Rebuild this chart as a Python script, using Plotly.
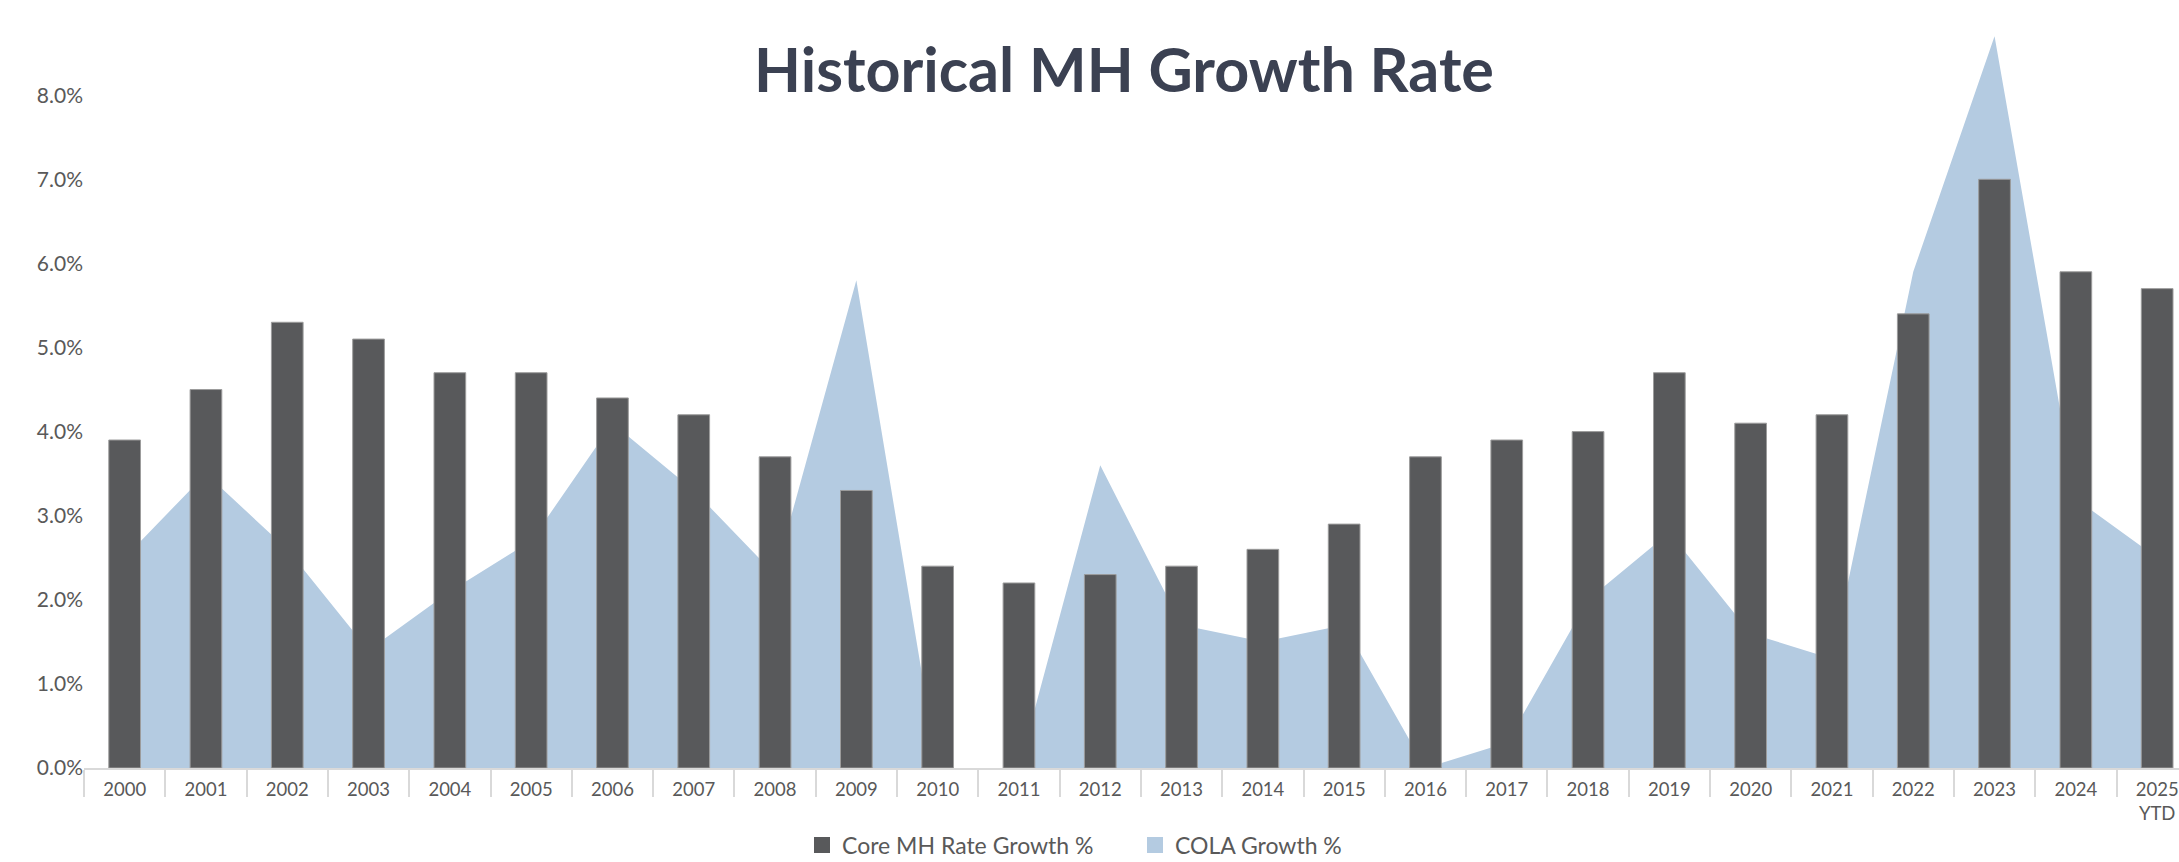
import plotly.graph_objects as go

years = ["2000", "2001", "2002", "2003", "2004", "2005", "2006", "2007", "2008", "2009",
         "2010", "2011", "2012", "2013", "2014", "2015", "2016", "2017", "2018", "2019",
         "2020", "2021", "2022", "2023", "2024", "2025<br>YTD"]
core_mh = [3.9, 4.5, 5.3, 5.1, 4.7, 4.7, 4.4, 4.2, 3.7, 3.3,
           2.4, 2.2, 2.3, 2.4, 2.6, 2.9, 3.7, 3.9, 4.0, 4.7,
           4.1, 4.2, 5.4, 7.0, 5.9, 5.7]
cola = [2.5, 3.5, 2.6, 1.4, 2.1, 2.7, 4.1, 3.3, 2.3, 5.8,
        0.0, 0.0, 3.6, 1.7, 1.5, 1.7, 0.0, 0.3, 2.0, 2.8,
        1.6, 1.3, 5.9, 8.7, 3.2, 2.5]
y_ticks = [0, 1, 2, 3, 4, 5, 6, 7, 8]

BAR = "#58595B"
AREA = "#B4CBE1"
GRAY = "#595959"
FONT = "Lato"

W, H = 2179, 862
ML, MB = 84, 94
cat_px = 81.3
x_right = 25.5 - (ML + 26 * cat_px - W) / cat_px

fig = go.Figure()
# area first, on the base y axis, so the bars (on the overlaying y2) sit above it
fig.add_trace(go.Scatter(x=years, y=[v / 100 for v in cola], mode="lines", fill="tozeroy",
                         fillcolor=AREA, line=dict(width=0, color=AREA), showlegend=False,
                         name="COLA Growth %"))
fig.add_trace(go.Bar(x=years, y=[v / 100 for v in core_mh], yaxis="y2", width=0.39,
                     marker=dict(color=BAR, line=dict(color="#9C9C9C", width=1)),
                     showlegend=False, name="Core MH Rate Growth %"))
# legend-only entries with square swatches
for name, col in [("Core MH Rate Growth %", BAR), ("COLA Growth %", AREA)]:
    fig.add_trace(go.Scatter(x=[years[0]], y=[None], yaxis="y2", mode="markers",
                             marker=dict(symbol="square", size=16, color=col),
                             name=name))

y_top = (H - MB) / 84.1 / 100
fig.update_layout(
    width=W, height=H,
    margin=dict(l=ML, r=0, t=0, b=MB),
    paper_bgcolor="white", plot_bgcolor="white",
    font=dict(family=FONT, color=GRAY),
    barmode="overlay",
    title=dict(text="<b>Historical MH Growth Rate</b>", x=1124 / W, xanchor="center",
               y=1 - 71 / H, yanchor="middle",
               font=dict(family=FONT, size=61, color="#3B4152")),
    xaxis=dict(type="category", range=[-0.5, x_right], tickson="boundaries",
               ticks="outside", ticklen=27, tickwidth=2, tickcolor="#D9D9D9",
               showline=True, linecolor="#D9D9D9", linewidth=2, showgrid=False,
               automargin=False, ticklabelstandoff=4,
               tickfont=dict(size=18.5, color=GRAY)),
    yaxis=dict(range=[0, y_top], tickvals=[v / 100 for v in y_ticks], tickformat=".1%",
               showgrid=False, zeroline=False, showline=False, ticks="",
               automargin=False, tickfont=dict(size=21, color=GRAY)),
    yaxis2=dict(range=[0, y_top], overlaying="y", visible=False),
    legend=dict(orientation="h", x=802 / W, xref="container", xanchor="left",
                y=1 - 845 / H, yref="container", yanchor="middle", entrywidth=288,
                font=dict(size=23, color=GRAY), traceorder="normal"),
)

fig.write_html("out.html", config={"displayModeBar": False},
               post_script="document.body.style.margin='0';")
